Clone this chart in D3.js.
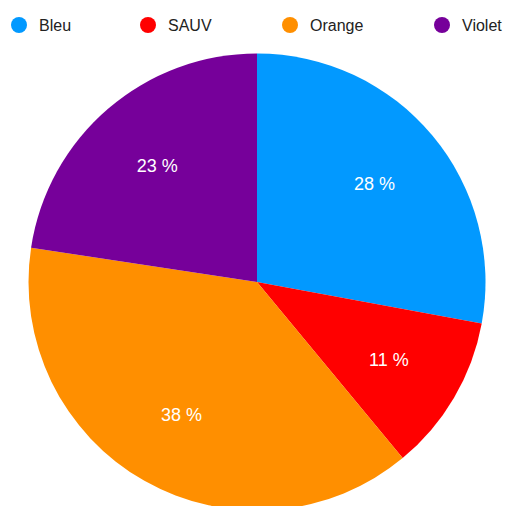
<!DOCTYPE html>
<html>
<head>
<meta charset="utf-8">
<script src="https://cdn.jsdelivr.net/npm/d3@7/dist/d3.min.js"></script>
<style>
  html, body { margin: 0; padding: 0; background: #fff; }
  svg { display: block; }
</style>
</head>
<body>
<svg id="chart"></svg>
<script>
// data (slice sizes estimated from the angles, labels are rounded)
var categories = ["Bleu", "SAUV", "Orange", "Violet"];
var values = [27.9, 11.1, 38.4, 22.6];
var colors = ["#0299ff", "#ff0000", "#ff8f00", "#76009a"];
var legendX = [19, 148, 290, 442];

var width = 506, height = 506;
var cx = 257, cy = 282, radius = 228.5;

var svg = d3.select("#chart")
  .attr("width", width)
  .attr("height", height);

var data = categories.map(function(c, i) {
  return { name: c, value: values[i], color: colors[i] };
});

var pie = d3.pie()
  .sort(null)
  .value(function(d) { return d.value; });

var arc = d3.arc()
  .innerRadius(0)
  .outerRadius(radius);

var labelArc = d3.arc()
  .innerRadius(153)
  .outerRadius(153);

var g = svg.append("g")
  .attr("transform", "translate(" + cx + "," + cy + ")");

var slices = g.selectAll(".slice")
  .data(pie(data))
  .enter().append("g")
  .attr("class", "slice");

slices.append("path")
  .attr("d", arc)
  .attr("fill", function(d) { return d.data.color; });

slices.append("text")
  .attr("transform", function(d) { return "translate(" + labelArc.centroid(d) + ")"; })
  .attr("text-anchor", "middle")
  .attr("dy", "0.35em")
  .attr("fill", "#fff")
  .style("font-family", "Liberation Sans, Arial, sans-serif")
  .style("font-size", "18px")
  .text(function(d) { return Math.round(d.data.value) + " %"; });

// legend
var legend = svg.append("g")
  .selectAll("g")
  .data(data)
  .enter().append("g")
  .attr("transform", function(d, i) { return "translate(" + legendX[i] + ",25)"; });

legend.append("circle")
  .attr("r", 8)
  .attr("fill", function(d) { return d.color; });

legend.append("text")
  .attr("x", 20)
  .attr("dy", "0.35em")
  .attr("fill", "#222")
  .style("font-family", "Liberation Sans, Arial, sans-serif")
  .style("font-size", "16px")
  .text(function(d) { return d.name; });
</script>
</body>
</html>
